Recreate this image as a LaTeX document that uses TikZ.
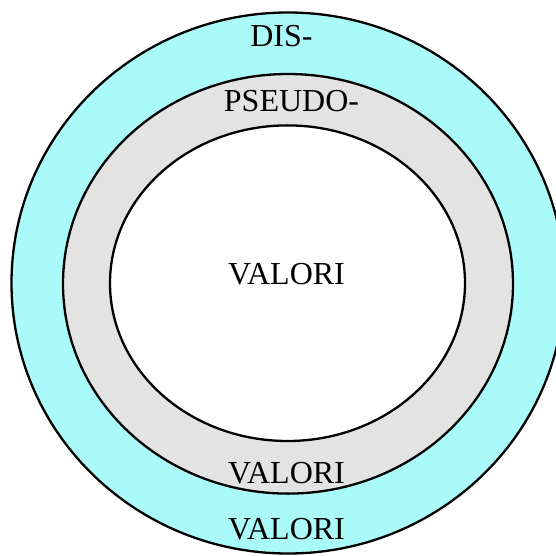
\documentclass[tikz,border=0pt]{standalone}
\usepackage{fontspec}
\setmainfont{Liberation Serif}
\usepackage{tikz}
\definecolor{anello}{HTML}{AAFAFA}
\definecolor{grigio}{HTML}{E3E3E3}
\tikzset{
  bordo/.style={line width=2.3pt,draw=black},
  etichetta/.style={anchor=base,inner sep=0pt,font=\fontsize{32}{36}\selectfont}
}

\begin{document}
\begin{tikzpicture}[x=1pt,y=-1pt]
  % area del disegno (l'anello esterno esce a destra)
  \useasboundingbox (0,0) rectangle (556,556);
  \clip (0,0) rectangle (556,556);
  % ellissi concentriche
  \coordinate (O) at (288,283);
  \filldraw[bordo,fill=anello] (O) ellipse [x radius=276.5pt,y radius=270.5pt];
  \filldraw[bordo,fill=grigio] (288,283.8) ellipse [x radius=225pt,y radius=209.8pt];
  \filldraw[bordo,fill=white] (287.5,283.2) ellipse [x radius=177.5pt,y radius=157.8pt];
  % testi
  \node[etichetta] (dis) at (281.5,47) {DIS-};
  \node[etichetta] (pseudo) at (291.5,112) {PSEUDO-};
  \node[etichetta] (valori) at (286.5,284) {VALORI};
  \node[etichetta] (valorimedio) at (286.5,483) {VALORI};
  \node[etichetta] (valoriesterno) at (286.5,539) {VALORI};
\end{tikzpicture}
\end{document}
